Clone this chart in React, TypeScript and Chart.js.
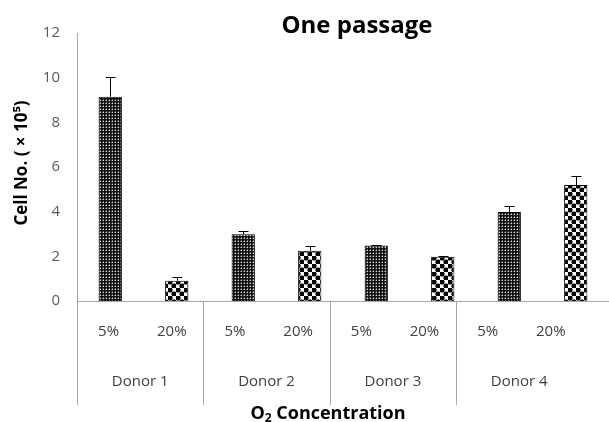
import React, { useEffect, useRef } from "react";
import { Chart, registerables } from "chart.js";

Chart.register(...registerables);

const donors = ["Donor 1", "Donor 2", "Donor 3", "Donor 4"];
const oxygenLevels = ["5%", "20%"];
const cellCounts = [9.15, 0.91, 2.99, 2.25, 2.48, 1.98, 3.99, 5.19];
const cellErrors = [0.87, 0.18, 0.13, 0.23, 0.04, 0.04, 0.26, 0.42];
const yMin = 0;
const yMax = 12;
const yStep = 2;
const chartTitle = "One passage";
const yTitle = "Cell No. ( \u00d7 10\u2075)";

const FONT = '"Open Sans", "Noto Sans", sans-serif';

function makeDensePattern(ctx: CanvasRenderingContext2D) {
  const c = document.createElement("canvas");
  c.width = 3;
  c.height = 3;
  const g = c.getContext("2d")!;
  g.fillStyle = "#111111";
  g.fillRect(0, 0, 3, 3);
  g.fillStyle = "#d8d8d8";
  g.fillRect(1, 1, 1, 1);
  g.fillStyle = "#666666";
  g.fillRect(0, 1, 1, 1);
  g.fillRect(1, 0, 1, 1);
  return ctx.createPattern(c, "repeat")!;
}

function makeDotPattern(ctx: CanvasRenderingContext2D) {
  const c = document.createElement("canvas");
  c.width = 8;
  c.height = 8;
  const g = c.getContext("2d")!;
  g.fillStyle = "#ffffff";
  g.fillRect(0, 0, 8, 8);
  g.fillStyle = "#000000";
  const pts = [
    [2, 2],
    [6, 6],
  ];
  for (const [x, y] of pts) {
    g.beginPath();
    g.arc(x, y, 2.6, 0, Math.PI * 2);
    g.fill();
  }
  return ctx.createPattern(c, "repeat")!;
}

export default function App() {
  const ref = useRef<HTMLCanvasElement | null>(null);

  useEffect(() => {
    const canvas = ref.current!;
    const ctx = canvas.getContext("2d")!;
    const dense = makeDensePattern(ctx);
    const dots = makeDotPattern(ctx);

    const labels: string[] = [];
    const fills: CanvasPattern[] = [];
    donors.forEach((d) =>
      oxygenLevels.forEach((o, j) => {
        labels.push(d + " " + o);
        fills.push(j === 0 ? dense : dots);
      })
    );

    const decor = {
      id: "decor",
      afterDatasetsDraw(chart: any) {
        const c = chart.ctx as CanvasRenderingContext2D;
        const ys = chart.scales.y;
        const meta = chart.getDatasetMeta(0);
        c.save();
        c.strokeStyle = "#000";
        c.lineWidth = 1;
        meta.data.forEach((bar: any, i: number) => {
          const x = Math.round(bar.x) + 0.5;
          const yb = ys.getPixelForValue(cellCounts[i]);
          const yt = Math.round(ys.getPixelForValue(cellCounts[i] + cellErrors[i])) + 0.5;
          c.beginPath();
          c.moveTo(x, yb);
          c.lineTo(x, yt);
          c.moveTo(x - 5, yt);
          c.lineTo(x + 5, yt);
          c.stroke();
        });
        c.restore();
      },
      afterDraw(chart: any) {
        const c = chart.ctx as CanvasRenderingContext2D;
        const xs = chart.scales.x;
        const area = chart.chartArea;
        const bottom = Math.round(area.bottom) + 0.5;
        const lineEnd = 405;
        c.save();
        c.strokeStyle = "#a6a6a6";
        c.lineWidth = 1;
        c.beginPath();
        c.moveTo(area.left, bottom);
        c.lineTo(area.right, bottom);
        const lx = Math.round(area.left) + 0.5;
        c.moveTo(lx, area.top);
        c.lineTo(lx, lineEnd);
        const n = labels.length;
        const cw = ((xs.right - xs.left) / n) * 0.95;
        for (let g = 1; g < donors.length; g++) {
          const dx = Math.round(xs.left + g * oxygenLevels.length * cw) + 0.5;
          c.moveTo(dx, bottom);
          c.lineTo(dx, lineEnd);
        }
        c.stroke();

        c.fillStyle = "#404040";
        c.textAlign = "center";
        c.textBaseline = "middle";
        c.font = "15px " + FONT;
        for (let i = 0; i < n; i++) {
          c.fillText(oxygenLevels[i % oxygenLevels.length], xs.left + (i + 0.5) * cw, 332);
        }
        donors.forEach((d, g) => {
          c.fillText(d, xs.left + (g + 0.5) * oxygenLevels.length * cw, 382);
        });

        // chart title
        c.fillStyle = "#000";
        c.textBaseline = "alphabetic";
        c.font = "bold 24px " + FONT;
        c.fillText(chartTitle, 357, 33);

        // y title
        c.save();
        c.translate(27, 163);
        c.rotate(-Math.PI / 2);
        c.font = "bold 17px " + FONT;
        c.fillStyle = "#000";
        c.textAlign = "center";
        c.fillText(yTitle, 0, 0);
        c.restore();

        // x title with subscript
        c.textAlign = "left";
        const big = "bold 18px " + FONT;
        const small = "bold 12px " + FONT;
        c.font = big;
        const wO = c.measureText("O").width;
        const wRest = c.measureText(" Concentration").width;
        c.font = small;
        const w2 = c.measureText("2").width;
        const total = wO + w2 + wRest;
        let x0 = 328 - total / 2;
        const base = 419;
        c.font = big;
        c.fillText("O", x0, base);
        x0 += wO;
        c.font = small;
        c.fillText("2", x0, base + 3);
        x0 += w2;
        c.font = big;
        c.fillText(" Concentration", x0, base);
        c.restore();
      },
    };

    const chart = new Chart(ctx, {
      type: "bar",
      data: {
        labels,
        datasets: [
          {
            data: cellCounts,
            backgroundColor: fills as any,
            borderColor: "#000",
            borderWidth: 1,
            categoryPercentage: 1,
            barPercentage: 0.35,
          },
        ],
      },
      options: {
        animation: false,
        responsive: false,
        maintainAspectRatio: false,
        layout: { padding: { top: 33, right: 0, bottom: 0, left: 0 } },
        plugins: {
          legend: { display: false },
          title: { display: false },
          tooltip: { enabled: false },
        },
        scales: {
          x: {
            grid: { display: false },
            border: { display: false },
            ticks: { display: false },
            afterFit(scale: any) {
              scale.height = 121;
            },
          },
          y: {
            min: yMin,
            max: yMax,
            grid: { display: false, drawTicks: false },
            border: { display: false },
            ticks: {
              stepSize: yStep,
              padding: 17,
              color: "#595959",
              font: { family: FONT, size: 15 },
            },
            afterFit(scale: any) {
              scale.width = 77;
            },
          },
        },
      },
      plugins: [decor],
    });
    return () => chart.destroy();
  }, []);

  return (
    <div style={{ position: "fixed", left: 0, top: 0, width: 609, height: 422, background: "#fff" }}>
      <canvas ref={ref} width={609} height={422} style={{ width: 609, height: 422 }} />
    </div>
  );
}
